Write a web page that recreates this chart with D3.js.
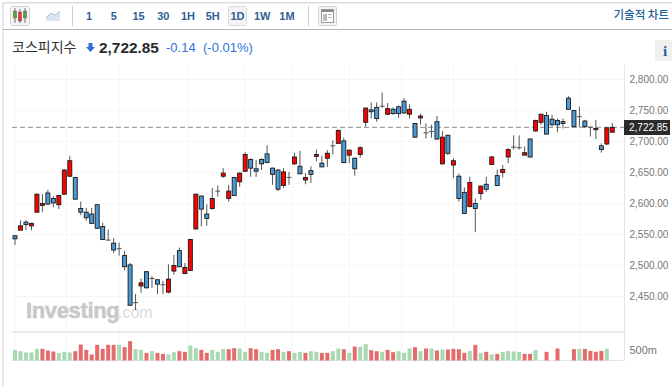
<!DOCTYPE html>
<html>
<head>
<meta charset="utf-8">
<script src="https://cdn.jsdelivr.net/npm/d3@7"></script>
<style>
html, body { margin: 0; padding: 0; background: #fff; }
svg { display: block; font-family: "Liberation Sans", Arial, sans-serif; }
.kr { font-family: "Noto Sans CJK KR", sans-serif; }
</style>
</head>
<body>
<svg id="chart" width="672" height="386"></svg>
<script>
// candle values
const opens = [
	2548, 2557, 2570, 2564, 2586, 2597, 2617, 2608, 2598, 2615,
	2644, 2642, 2592, 2586, 2583, 2598, 2563, 2542, 2536, 2527,
	2516, 2501, 2440, 2467, 2490, 2479, 2477, 2469, 2457, 2491,
	2524, 2487, 2492, 2559, 2612, 2583, 2592, 2620, 2644, 2608,
	2642, 2635, 2652, 2671, 2656, 2671, 2680, 2657, 2654, 2629,
	2642, 2664, 2660, 2638, 2653, 2676, 2665, 2673, 2693, 2697,
	2701, 2678, 2673, 2679, 2731, 2751, 2755, 2757, 2744, 2752,
	2756, 2765, 2744, 2729, 2738, 2714, 2716, 2732, 2664, 2710,
	2662, 2644, 2618, 2595, 2600, 2616, 2631, 2663, 2645, 2650,
	2675, 2691, 2691, 2678, 2704, 2717, 2731, 2742, 2736, 2734,
	2732, 2770, 2750, 2740, 2733, 2723, 2719, 2693, 2696, 2715
];
const closes = [
	2543, 2564, 2566, 2568, 2615, 2600, 2599, 2601, 2613, 2654,
	2669, 2607, 2586, 2577, 2568, 2560, 2542, 2541, 2525, 2527,
	2498, 2436, 2440, 2472, 2464, 2479, 2470, 2469, 2478, 2500,
	2498, 2497, 2542, 2615, 2591, 2576, 2608, 2620, 2649, 2620,
	2613, 2649, 2679, 2657, 2652, 2664, 2666, 2647, 2623, 2651,
	2642, 2675, 2648, 2642, 2647, 2679, 2659, 2681, 2693, 2718,
	2666, 2686, 2656, 2690, 2754, 2748, 2737, 2757, 2753, 2745,
	2745, 2746, 2752, 2707, 2741, 2714, 2716, 2704, 2707, 2681,
	2669, 2608, 2584, 2634, 2592, 2628, 2623, 2675, 2629, 2655,
	2687, 2691, 2690, 2682, 2675, 2734, 2744, 2712, 2727, 2727,
	2729, 2752, 2724, 2740, 2724, 2723, 2721, 2687, 2722, 2722.85
];
const highs = [
	2549, 2573, 2573, 2569, 2616, 2615, 2622, 2612, 2614, 2655,
	2677, 2643, 2603, 2593, 2593, 2599, 2569, 2558, 2544, 2537,
	2524, 2504, 2454, 2479, 2491, 2483, 2478, 2475, 2502, 2517,
	2529, 2504, 2543, 2616, 2613, 2599, 2625, 2629, 2657, 2630,
	2643, 2650, 2683, 2673, 2670, 2673, 2694, 2658, 2655, 2657,
	2651, 2682, 2685, 2649, 2660, 2687, 2677, 2686, 2702, 2719,
	2706, 2687, 2674, 2692, 2754, 2763, 2763, 2779, 2762, 2755,
	2758, 2770, 2760, 2730, 2745, 2729, 2727, 2741, 2717, 2711,
	2673, 2648, 2626, 2643, 2608, 2629, 2643, 2677, 2655, 2662,
	2689, 2710, 2710, 2692, 2705, 2735, 2744, 2748, 2743, 2737,
	2737, 2773, 2751, 2756, 2735, 2724, 2735, 2697, 2723, 2730
];
const lows = [
	2533, 2557, 2557, 2557, 2585, 2586, 2598, 2594, 2591, 2614,
	2643, 2606, 2581, 2572, 2567, 2559, 2541, 2540, 2520, 2516,
	2492, 2435, 2428, 2456, 2463, 2464, 2454, 2454, 2455, 2485,
	2497, 2487, 2491, 2558, 2563, 2564, 2590, 2611, 2641, 2603,
	2612, 2627, 2651, 2643, 2643, 2654, 2665, 2630, 2620, 2625,
	2630, 2662, 2647, 2631, 2633, 2668, 2659, 2659, 2679, 2696,
	2665, 2665, 2645, 2674, 2724, 2737, 2732, 2754, 2743, 2743,
	2738, 2745, 2737, 2706, 2727, 2705, 2706, 2703, 2663, 2678,
	2641, 2603, 2583, 2594, 2554, 2606, 2619, 2662, 2628, 2642,
	2665, 2687, 2687, 2678, 2674, 2716, 2727, 2711, 2724, 2715,
	2721, 2751, 2724, 2723, 2722, 2708, 2704, 2682, 2694, 2715
];
// volume in millions, null where no bar is visible
const volumes = [
	485, 424, 364, 364, 530, 530, 455, 409, 333, 394,
	364, 424, 727, 485, 273, 712, 530, 712, 712, 712,
	606, 879, 515, 485, 348, 424, 348, 303, 273, 379,
	424, 394, 682, 560, 485, 348, 485, 394, 515, 515,
	560, 545, 394, 560, 515, 379, 348, 485, 515, 394,
	424, 348, 394, 348, 424, 394, 348, 348, 424, 545,
	515, 348, 636, 621, 742, 470, 424, 394, 485, 379,
	424, 348, 545, 606, 424, 545, 545, 455, 500, 500,
	530, 515, 348, 439, 712, 348, 394, 273, 303, 394,
	439, 409, 394, 303, 303, 470, null, 394, null, 545,
	null, null, 515, 530, 530, 439, 394, 439, 530, null
];
// g = green bar, r = red bar
const volumeSides = [
	"g","g","g","g","g","r","r","r","g","g",
	"g","r","r","r","r","r","r","r","r","g",
	"r","r","g","g","r","g","r","r","g","g",
	"r","r","g","g","r","r","g","g","g","r",
	"r","g","g","r","r","g","g","r","r","g",
	"r","g","g","r","g","g","r","r","g","g",
	"r","g","r","g","g","r","r","g","r","r",
	"g","g","g","r","g","r","g","r","g","r",
	"r","r","r","g","r","g","r","g","r","g",
	"g","g","g","r","r","g","r","r","r","r",
	"r","r","r","g","r","r","r","r","g","r"
];

const priceTicks = [2450, 2500, 2550, 2600, 2650, 2700, 2750, 2800];
const lastPrice = 2722.85;
const dateTicks = [0, 9.4, 19, 31.5, 42, 50.6, 61, 70.5, 80, 91.5, 103];
const dateLabels = ["14", "월 '24", "15", "월 '24", "19", "월 '24", "18", "월 '24", "15", "월 '24", "20"];
const intervals = ["1", "5", "15", "30", "1H", "5H", "1D", "1W", "1M"];

const svg = d3.select("#chart");

var x = d3.scaleLinear().domain([0, 109]).range([15, 612.3]);
var y = d3.scaleLinear().domain([2450, 2800]).range([296.5, 79.5]);
var yVol = d3.scaleLinear().domain([0, 500]).range([360.5, 349.5]);
var xButton = d3.scaleLinear().domain([0, 8]).range([89, 287]);

// frame and toolbar
svg.append("rect").attr("x", 2).attr("y", 2).attr("width", 670).attr("height", 1.5).attr("fill", "#ddd");
svg.append("rect").attr("x", 2).attr("y", 2).attr("width", 1.5).attr("height", 384).attr("fill", "#e2e2e2");
svg.append("rect").attr("x", 3).attr("y", 29).attr("width", 669).attr("height", 1).attr("fill", "#b5b5b5");
[72.5, 308.5].forEach(function(sx) {
	svg.append("line").attr("x1", sx).attr("x2", sx).attr("y1", 6).attr("y2", 26).attr("stroke", "#ccc");
});

// candle icon
svg.append("rect").attr("x", 10.5).attr("y", 6.5).attr("width", 19).attr("height", 19).attr("rx", 1)
	.attr("fill", "#f4f4f4").attr("stroke", "#d2d2d2");
[[15, "#5aa03c"], [20, "#e33"], [25, "#5aa03c"]].forEach(function(c, i) {
	svg.append("line").attr("x1", c[0]).attr("x2", c[0]).attr("y1", 8 + i % 2).attr("y2", 23)
		.attr("stroke", "#777");
	svg.append("rect").attr("x", c[0] - 1.5).attr("y", 11 + (i % 2) * 1).attr("width", 3).attr("height", 7 + (i % 2) * 2)
		.attr("fill", c[1]).attr("stroke", "#555").attr("stroke-width", 0.5);
});

// line icon
svg.append("path").attr("d", "M46 18 L51 13 L55 15 L60 11 L60 21 L46 21 Z").attr("fill", "#d8e4f0");
svg.append("path").attr("d", "M46 18 L51 13 L55 15 L60 11").attr("fill", "none").attr("stroke", "#a9c2dc");

// interval buttons
svg.append("rect").attr("x", 228.5).attr("y", 6.5).attr("width", 18).attr("height", 19).attr("rx", 1)
	.attr("fill", "#f4f4f4").attr("stroke", "#dcdcdc");
svg.selectAll(".interval").data(intervals).enter().append("text")
	.attr("class", "interval")
	.attr("x", (d, i) => xButton(i))
	.attr("y", 19.5)
	.attr("text-anchor", "middle")
	.attr("font-size", 11)
	.attr("font-weight", "bold")
	.attr("fill", "#2f5f96")
	.text(d => d);

// table icon
svg.append("rect").attr("x", 318.5).attr("y", 6.5).attr("width", 18).attr("height", 19).attr("rx", 1)
	.attr("fill", "#f4f4f4").attr("stroke", "#d2d2d2");
svg.append("rect").attr("x", 321.5).attr("y", 9.5).attr("width", 12).attr("height", 13).attr("fill", "#fff").attr("stroke", "#999");
svg.append("rect").attr("x", 322).attr("y", 10).attr("width", 11).attr("height", 2).attr("fill", "#888");
svg.append("rect").attr("x", 323).attr("y", 14).attr("width", 4).attr("height", 7).attr("fill", "#bbb");
svg.append("rect").attr("x", 328).attr("y", 14).attr("width", 4).attr("height", 1).attr("fill", "#bbb");
svg.append("rect").attr("x", 328).attr("y", 17).attr("width", 4).attr("height", 1).attr("fill", "#bbb");

svg.append("text").attr("class", "kr").attr("x", 669).attr("y", 19).attr("text-anchor", "end")
	.attr("font-size", 11.5).attr("font-weight", 500).attr("fill", "#1d5f96").text("기술적 차트");

// title row
svg.append("text").attr("class", "kr").attr("x", 12).attr("y", 52).attr("font-size", 14).attr("fill", "#333").text("코스피지수");
svg.append("path").attr("d", "M88.5 43 L92.5 43 L92.5 47 L95 47 L90.5 52 L86 47 L88.5 47 Z").attr("fill", "#2c6fd1");
svg.append("text").attr("x", 99).attr("y", 52.5).attr("font-size", 15.4).attr("font-weight", "bold").attr("fill", "#2a2a2a").text("2,722.85");
svg.append("text").attr("x", 166).attr("y", 52).attr("font-size", 13).attr("fill", "#2f74d8").text("-0.14");
svg.append("text").attr("x", 203).attr("y", 52).attr("font-size", 13).attr("fill", "#2f74d8").text("(-0.01%)");

// info button
svg.append("rect").attr("x", 655).attr("y", 40).attr("width", 17).attr("height", 21).attr("fill", "#f0f0f0");
svg.append("text").attr("x", 665).attr("y", 56).attr("text-anchor", "middle").attr("font-family", "Liberation Serif, serif")
	.attr("font-size", 15).attr("font-weight", "bold").attr("fill", "#2a5f9e").text("i");

// grid
var grid = svg.append("g").attr("stroke", "#f6f6f6");
grid.selectAll("line.h").data(priceTicks).enter().append("line")
	.attr("x1", 13).attr("x2", 624).attr("y1", d => y(d)).attr("y2", d => y(d));
grid.selectAll("line.v").data(dateTicks).enter().append("line")
	.attr("x1", d => x(d)).attr("x2", d => x(d)).attr("y1", 65).attr("y2", 360);

// watermark
svg.append("text").attr("x", 26).attr("y", 318).attr("font-size", 22).attr("font-weight", "bold")
	.attr("fill", "#c8c8c8").attr("stroke", "#c8c8c8").attr("stroke-width", 0.5).attr("letter-spacing", -0.35).text("Investing");
svg.append("text").attr("x", 118).attr("y", 318).attr("font-size", 16).attr("fill", "#dcdcdc").text(".com");

// last price line
svg.append("line").attr("x1", 12).attr("x2", 624).attr("y1", y(lastPrice)).attr("y2", y(lastPrice))
	.attr("stroke", "#8c8c8c").attr("stroke-dasharray", "5,3");

// candles
var candles = svg.append("g").selectAll("g").data(d3.range(opens.length)).enter().append("g");

candles.append("line")
	.attr("x1", i => x(i))
	.attr("x2", i => x(i))
	.attr("y1", i => y(highs[i]))
	.attr("y2", i => y(lows[i]))
	.attr("stroke", "#555");

// no body to speak of, just a tick
candles.filter(i => Math.abs(opens[i] - closes[i]) <= 1).append("line")
	.attr("x1", i => x(i) - 2.5)
	.attr("x2", i => x(i) + 2.5)
	.attr("y1", i => y(closes[i]))
	.attr("y2", i => y(closes[i]))
	.attr("stroke", "#555");

candles.filter(i => Math.abs(opens[i] - closes[i]) > 1).append("rect")
	.attr("x", i => x(i) - 2)
	.attr("width", 4)
	.attr("y", i => y(Math.max(opens[i], closes[i])))
	.attr("height", i => Math.abs(y(opens[i]) - y(closes[i])))
	.attr("fill", i => closes[i] > opens[i] ? "#ff0000" : "#4b9ad8")
	.attr("stroke", "#1a1a1a")
	.attr("stroke-width", 0.9);

// volume
svg.append("rect").attr("x", 12).attr("y", 331).attr("width", 612).attr("height", 2).attr("fill", "#e9e9e9");
svg.append("line").attr("x1", 12).attr("x2", 624).attr("y1", 360.5).attr("y2", 360.5).attr("stroke", "#e3e6ee");

svg.append("g").selectAll("rect").data(d3.range(volumes.length).filter(i => volumes[i] !== null)).enter()
	.append("rect")
	.attr("x", i => x(i) - 2)
	.attr("width", 4)
	.attr("y", i => yVol(volumes[i]))
	.attr("height", i => yVol(0) - yVol(volumes[i]))
	.attr("fill", i => volumeSides[i] === "g" ? "#a9d9b2" : "#e46c6c");

// axes
svg.append("line").attr("x1", 624.5).attr("x2", 624.5).attr("y1", 65).attr("y2", 361).attr("stroke", "#e3e6ee");

var axisPrice = d3.axisRight(y).tickValues(priceTicks).tickSize(0).tickPadding(5).tickFormat(d3.format(",.2f"));
var gPrice = svg.append("g").attr("transform", "translate(624.5,0)").call(axisPrice);
gPrice.select(".domain").remove();
gPrice.selectAll("text").attr("font-size", 10).attr("font-family", "Liberation Sans, Arial, sans-serif").attr("fill", "#777");

var axisVol = d3.axisRight(yVol).tickValues([500]).tickSize(0).tickPadding(5).tickFormat(d => d + "m");
var gVol = svg.append("g").attr("transform", "translate(624.5,0)").call(axisVol);
gVol.select(".domain").remove();
gVol.selectAll("text").attr("font-size", 11).attr("font-family", "Liberation Sans, Arial, sans-serif").attr("fill", "#777");

svg.append("clipPath").attr("id", "dateClip").append("rect").attr("x", 12).attr("y", 360).attr("width", 660).attr("height", 26);
var axisDate = d3.axisBottom(x).tickValues(dateTicks).tickSize(0).tickPadding(5)
	.tickFormat((d, i) => dateLabels[i]);
var gDate = svg.append("g").attr("transform", "translate(0,360.5)").attr("clip-path", "url(#dateClip)").call(axisDate);
gDate.select(".domain").remove();
gDate.selectAll("text").attr("font-size", 10).attr("font-family", "Noto Sans CJK KR, sans-serif").attr("fill", "#777");

// last price tag
svg.append("rect").attr("x", 624).attr("y", 120).attr("width", 46).attr("height", 15).attr("fill", "#2b2b2b");
svg.append("text").attr("x", 629).attr("y", y(lastPrice) + 3.5).attr("font-size", 10).attr("fill", "#fff").text(d3.format(",.2f")(lastPrice));
</script>
</body>
</html>
